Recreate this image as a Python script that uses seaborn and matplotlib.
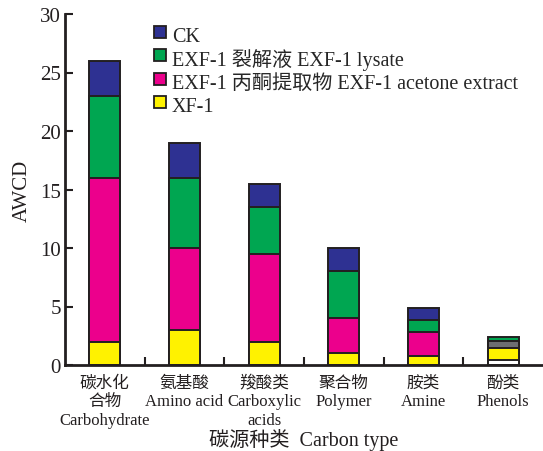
import matplotlib
matplotlib.use("Agg")
import matplotlib.pyplot as plt
import seaborn as sns
import numpy as np
import pandas as pd
from matplotlib.lines import Line2D
from matplotlib.ticker import FixedLocator

# Carbon source categories (tick labels)
categories = [
    "碳水化\n合物\nCarbohydrate",
    "氨基酸\nAmino acid",
    "羧酸类\nCarboxylic\nacids",
    "聚合物\nPolymer",
    "胺类\nAmine",
    "酚类\nPhenols",
]

# AWCD contributions per treatment (stacked bottom -> top)
xf1 = [2.0, 3.0, 2.0, 1.0, 0.8, 0.45]
acetone_extract = [14.0, 7.0, 7.5, 3.0, 2.0, 1.0]
lysate = [7.0, 6.0, 4.0, 4.0, 1.05, 0.6]
ck = [3.0, 3.0, 2.0, 2.0, 1.05, 0.35]

series_labels = [
    "XF-1",
    "EXF-1 丙酮提取物 EXF-1 acetone extract",
    "EXF-1 裂解液 EXF-1 lysate",
    "CK",
]
series_values = [xf1, acetone_extract, lysate, ck]

yticks = [0, 5, 10, 15, 20, 25, 30]

# colours
C_YELLOW = "#FFF200"
C_MAGENTA = "#EC008C"
C_GREEN = "#00A651"
C_BLUE = "#2E3192"
C_GRAY = "#6D6E71"
EDGE = "#231F20"
series_colors = [C_YELLOW, C_MAGENTA, C_GREEN, C_BLUE]
# the phenols column uses its own segment fills
phenol_colors = ["#FFFFFF", C_YELLOW, C_GRAY, C_GREEN]

sns.set_style("ticks")
plt.rcParams["font.family"] = ["Liberation Serif", "Noto Sans CJK SC"]
plt.rcParams["axes.unicode_minus"] = False

fig = plt.figure(figsize=(5.43, 4.52), dpi=100)
ax = fig.add_axes([65 / 543, 86 / 452, 478 / 543, 351 / 452])

cum = np.cumsum(np.array(series_values), axis=0)
# draw cumulative totals from top layer down so lower segments overlay
for j in reversed(range(len(series_values))):
    colors = [series_colors[j]] * len(categories)
    colors[-1] = phenol_colors[j]
    df = pd.DataFrame({"cat": categories, "val": cum[j]})
    sns.barplot(
        data=df, x="cat", y="val", hue="cat", palette=colors,
        width=0.39, saturation=1, edgecolor=EDGE, linewidth=1.4,
        legend=False, ax=ax, order=categories, hue_order=categories,
    )

ax.set_xlim(-0.5, 5.5)
ax.set_ylim(0, 30)
ax.set_yticks(yticks)
ax.set_yticklabels([str(v) for v in yticks], fontsize=15, color="#231F20")
ax.tick_params(axis="y", direction="in", length=6, width=1.5, color=EDGE, pad=3)

ax.set_xticks(range(len(categories)))
ax.set_xticklabels(categories, fontsize=12, color="#231F20", linespacing=1.22)
ax.tick_params(axis="x", which="major", length=0, pad=7)
ax.xaxis.set_minor_locator(FixedLocator(np.arange(0.5, len(categories) - 0.5, 1.0)))
ax.tick_params(axis="x", which="minor", direction="in", length=6, width=1.5, color=EDGE)

for s in ["top", "right"]:
    ax.spines[s].set_visible(False)
for s in ["left", "bottom"]:
    ax.spines[s].set_linewidth(2)
    ax.spines[s].set_color(EDGE)

ax.set_ylabel("AWCD", fontsize=15, color="#231F20", labelpad=6)
ax.set_xlabel("碳源种类  Carbon type", fontsize=14.5, color="#231F20", labelpad=0)

# square markers keep every legend row the same height
handles = [Line2D([], [], linestyle="none", marker="s", markersize=8,
                  markerfacecolor=series_colors[j], markeredgecolor=EDGE,
                  markeredgewidth=1.3, label=series_labels[j])
           for j in reversed(range(4))]
ax.legend(handles=handles, loc="upper left", bbox_to_anchor=(0.186, 0.975),
          frameon=False, fontsize=14.5, handlelength=0.6, handleheight=1.45,
          handletextpad=0.3, labelspacing=-0.03, borderaxespad=0.0,
          borderpad=0.0)

fig.savefig("out.png", dpi=100)
